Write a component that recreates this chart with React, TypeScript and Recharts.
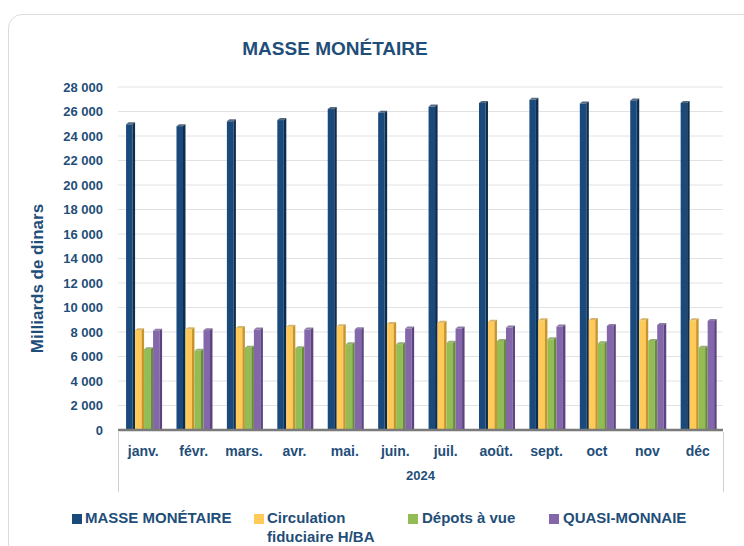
import { BarChart, Bar, XAxis, YAxis, CartesianGrid } from "recharts";

const months = ["janv.", "févr.", "mars.", "avr.", "mai.", "juin.", "juil.", "août.", "sept.", "oct", "nov", "déc"];
const masseMonetaire = [24950, 24800, 25200, 25300, 26200, 25900, 26400, 26700, 26950, 26650, 26900, 26700];
const circulation = [8150, 8220, 8330, 8420, 8460, 8660, 8750, 8830, 8950, 8980, 8950, 8950];
const depots = [6600, 6460, 6720, 6680, 7000, 7000, 7120, 7270, 7400, 7080, 7270, 6720];
const quasiMonnaie = [8100, 8150, 8200, 8200, 8230, 8280, 8280, 8360, 8440, 8500, 8580, 8900];
const yTicks = [0, 2000, 4000, 6000, 8000, 10000, 12000, 14000, 16000, 18000, 20000, 22000, 24000, 26000, 28000];

const data = months.map((m, i) => ({
  month: m,
  masse: masseMonetaire[i],
  circ: circulation[i],
  depots: depots[i],
  quasi: quasiMonnaie[i],
}));

const TEXT = "#1F4E79";
const FONT = "'Liberation Sans', Arial, sans-serif";

const series = [
  { key: "masse", name: "MASSE MONÉTAIRE", color: "#1A4A7C", side: "#0E2C4D" },
  { key: "circ", name: "Circulation fiduciaire H/BA", color: "#FFCA58", side: "#C7952C" },
  { key: "depots", name: "Dépots à vue", color: "#93BC55", side: "#688C36" },
  { key: "quasi", name: "QUASI-MONNAIE", color: "#8466AA", side: "#5C4480" },
];

const fmt = (v: number) => (v >= 1000 ? `${Math.floor(v / 1000)} ${String(v % 1000).padStart(3, "0")}` : `${v}`);

// flat bar with a darker side strip to hint at the 3D look
function Column3D(props: any) {
  const { x, y, width, height, fill, side } = props;
  if (!height || height <= 0) return null;
  const d = 2.5;
  return (
    <g>
      <rect x={x} y={y} width={width - d} height={height} fill={fill} />
      <polygon points={`${x + width - d},${y} ${x + width},${y - 2} ${x + width},${y + height} ${x + width - d},${y + height}`} fill={side} />
      <polygon points={`${x},${y} ${x + d},${y - 2} ${x + width},${y - 2} ${x + width - d},${y}`} fill={side} opacity={0.7} />
    </g>
  );
}

export default function App() {
  return (
    <div style={{ position: "absolute", left: 0, top: 0, width: 744, height: 546, background: "#fff", overflow: "hidden", fontFamily: FONT }}>
      <div style={{ position: "absolute", left: 8, top: 14, width: 780, height: 600, border: "1px solid #dcdcdc", borderRadius: 14 }} />
      <div style={{ position: "absolute", left: 335, top: 39, transform: "translateX(-50%)", fontSize: 19, lineHeight: "19px", fontWeight: 700, color: TEXT, whiteSpace: "nowrap" }}>
        MASSE MONÉTAIRE
      </div>
      <div style={{ position: "absolute", left: 118, top: 432, width: 1, height: 60, background: "#d0d0d0" }} />
      <div style={{ position: "absolute", left: 723, top: 432, width: 1, height: 60, background: "#d0d0d0" }} />
      <div style={{ position: "absolute", left: 0, top: 0 }}>
        <BarChart width={744} height={546} data={data} margin={{ top: 87, right: 21, left: 0, bottom: 56 }} barGap={0} barCategoryGap="16%">
          <CartesianGrid vertical={false} stroke="#e2e2e2" />
          <YAxis
            width={118}
            domain={[0, 28000]}
            ticks={yTicks}
            interval={0}
            axisLine={false}
            tickLine={false}
            tickMargin={9}
            tickFormatter={fmt}
            tick={{ fontSize: 13, fontWeight: 700, fill: TEXT, fontFamily: FONT }}
            label={{
              content: ({ viewBox }: any) => {
                const cx = 37;
                const cy = viewBox.y + viewBox.height / 2 + 20;
                return (
                  <text x={cx} y={cy} transform={`rotate(-90 ${cx} ${cy})`} textAnchor="middle" dominantBaseline="central" fontSize={17} fontWeight={700} fill={TEXT} fontFamily={FONT}>
                    Milliards de dinars
                  </text>
                );
              },
            }}
          />
          <XAxis
            dataKey="month"
            height={60}
            interval={0}
            axisLine={{ stroke: "#7a7a7a", strokeWidth: 2.5 }}
            tickLine={false}
            tickMargin={10}
            tick={{ fontSize: 14, fontWeight: 700, fill: TEXT, fontFamily: FONT }}
            label={{ value: "2024", position: "insideBottom", offset: 10, fontSize: 13, fontWeight: 700, fill: TEXT, fontFamily: FONT }}
          />
          {series.map((s) => (
            <Bar
              key={s.key}
              dataKey={s.key}
              name={s.name}
              fill={s.color}
              isAnimationActive={false}
              shape={(p: any) => <Column3D {...p} side={s.side} />}
            />
          ))}
        </BarChart>
      </div>
      {[
        { left: 72, textLeft: 85, width: 200 },
        { left: 254, textLeft: 267, width: 125 },
        { left: 408, textLeft: 422, width: 130 },
        { left: 549, textLeft: 563, width: 170 },
      ].map((pos, i) => (
        <div key={series[i].key}>
          <div style={{ position: "absolute", left: pos.left, top: 514, width: 10, height: 10, background: series[i].color }} />
          <div style={{ position: "absolute", left: pos.textLeft, top: 508, width: pos.width, fontSize: 15, lineHeight: "19px", fontWeight: 700, color: TEXT }}>
            {series[i].name}
          </div>
        </div>
      ))}
    </div>
  );
}
